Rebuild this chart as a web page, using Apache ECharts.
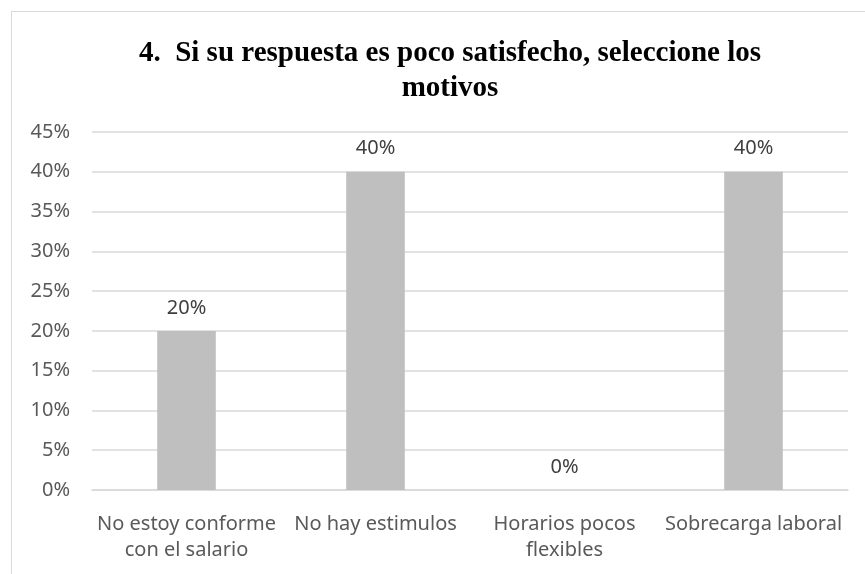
<!DOCTYPE html>
<html><head><meta charset="utf-8">
<script src="https://cdn.jsdelivr.net/npm/echarts@6/dist/echarts.min.js"></script>
<style>
html,body{margin:0;padding:0;background:#fff;}
#box{position:absolute;left:11px;top:11px;width:900px;height:600px;border:1px solid #d9d9d9;box-sizing:border-box;}
#c{position:absolute;left:0;top:0;width:865px;height:574px;}
</style></head>
<body><div id="box"></div><div id="c"></div>
<script>
const categories = ["No estoy conforme\ncon el salario", "No hay estimulos", "Horarios pocos\nflexibles", "Sobrecarga laboral"];
const values = [20, 40, 0, 40];
const titleText = "4.  Si su respuesta es poco satisfecho, seleccione los\nmotivos";

const chart = echarts.init(document.getElementById('c'));
chart.setOption({
  animation: false,
  title: {
    text: titleText, left: 445, top: 31, textAlign: 'center',
    textStyle: {fontFamily: 'Liberation Serif', fontWeight: 'bold', fontSize: 29, color: '#000', lineHeight: 35}
  },
  grid: {left: 92, right: 17, top: 132, bottom: 84},
  xAxis: {
    type: 'category', data: categories,
    axisLine: {show: true, lineStyle: {color: '#d9d9d9', width: 1.5}},
    axisTick: {show: false},
    axisLabel: {fontFamily: 'Noto Sans', fontSize: 20, color: '#595959', margin: 21, lineHeight: 26, interval: 0}
  },
  yAxis: {
    type: 'value', min: 0, max: 45, interval: 5,
    axisLine: {show: false}, axisTick: {show: false},
    axisLabel: {formatter: '{value}%', fontFamily: 'Noto Sans', fontSize: 20, color: '#595959', margin: 22},
    splitLine: {lineStyle: {color: '#d9d9d9', width: 1.5}}
  },
  series: [{
    type: 'bar', data: values, barWidth: '31%',
    itemStyle: {color: '#bfbfbf'},
    label: {show: true, position: 'top', distance: 13, formatter: '{c}%', fontFamily: 'Noto Sans', fontSize: 20, color: '#404040'}
  }]
});
</script></body></html>
